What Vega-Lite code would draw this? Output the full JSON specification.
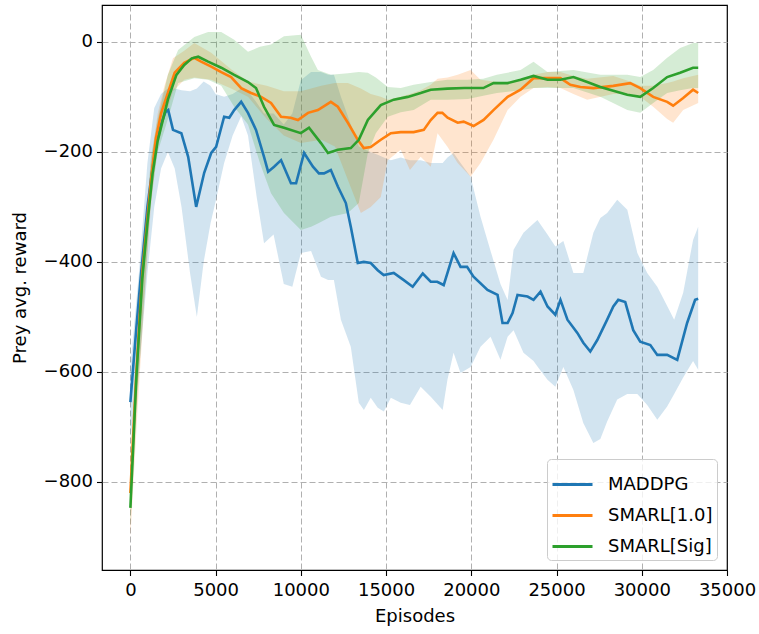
{
  "$schema": "https://vega.github.io/schema/vega-lite/v6.json",
  "width": 625,
  "height": 565,
  "autosize": {"type": "none"},
  "padding": {"left": 102, "top": 5, "right": 32, "bottom": 64},
  "background": "white",
  "datasets": {
    "lines": [
      {"s":"MADDPG","x":0,"y":-655},{"s":"MADDPG","x":350,"y":-520},{"s":"MADDPG","x":600,"y":-430},{"s":"MADDPG","x":1000,"y":-300},{"s":"MADDPG","x":1230,"y":-245},{"s":"MADDPG","x":1520,"y":-184},{"s":"MADDPG","x":1800,"y":-150},{"s":"MADDPG","x":2050,"y":-128},{"s":"MADDPG","x":2220,"y":-124},{"s":"MADDPG","x":2500,"y":-160},{"s":"MADDPG","x":2990,"y":-166},{"s":"MADDPG","x":3390,"y":-209},{"s":"MADDPG","x":3860,"y":-300},{"s":"MADDPG","x":4330,"y":-238},{"s":"MADDPG","x":4740,"y":-202},{"s":"MADDPG","x":5030,"y":-191},{"s":"MADDPG","x":5500,"y":-136},{"s":"MADDPG","x":5800,"y":-138},{"s":"MADDPG","x":6090,"y":-124},{"s":"MADDPG","x":6500,"y":-109},{"s":"MADDPG","x":6900,"y":-129},{"s":"MADDPG","x":7370,"y":-160},{"s":"MADDPG","x":7840,"y":-209},{"s":"MADDPG","x":8080,"y":-236},{"s":"MADDPG","x":8430,"y":-227},{"s":"MADDPG","x":8840,"y":-215},{"s":"MADDPG","x":9420,"y":-257},{"s":"MADDPG","x":9720,"y":-257},{"s":"MADDPG","x":10190,"y":-202},{"s":"MADDPG","x":10710,"y":-227},{"s":"MADDPG","x":11060,"y":-239},{"s":"MADDPG","x":11360,"y":-239},{"s":"MADDPG","x":11760,"y":-233},{"s":"MADDPG","x":12170,"y":-263},{"s":"MADDPG","x":12640,"y":-293},{"s":"MADDPG","x":12930,"y":-336},{"s":"MADDPG","x":13340,"y":-402},{"s":"MADDPG","x":13690,"y":-400},{"s":"MADDPG","x":14100,"y":-402},{"s":"MADDPG","x":14510,"y":-415},{"s":"MADDPG","x":14860,"y":-424},{"s":"MADDPG","x":15450,"y":-420},{"s":"MADDPG","x":16040,"y":-433},{"s":"MADDPG","x":16560,"y":-445},{"s":"MADDPG","x":17150,"y":-421},{"s":"MADDPG","x":17620,"y":-436},{"s":"MADDPG","x":18000,"y":-436},{"s":"MADDPG","x":18380,"y":-442},{"s":"MADDPG","x":18960,"y":-384},{"s":"MADDPG","x":19370,"y":-409},{"s":"MADDPG","x":19750,"y":-409},{"s":"MADDPG","x":20130,"y":-427},{"s":"MADDPG","x":20950,"y":-451},{"s":"MADDPG","x":21540,"y":-460},{"s":"MADDPG","x":21830,"y":-511},{"s":"MADDPG","x":22130,"y":-511},{"s":"MADDPG","x":22420,"y":-493},{"s":"MADDPG","x":22710,"y":-460},{"s":"MADDPG","x":23300,"y":-463},{"s":"MADDPG","x":23650,"y":-469},{"s":"MADDPG","x":24060,"y":-454},{"s":"MADDPG","x":24470,"y":-481},{"s":"MADDPG","x":24930,"y":-496},{"s":"MADDPG","x":25230,"y":-469},{"s":"MADDPG","x":25640,"y":-505},{"s":"MADDPG","x":26220,"y":-529},{"s":"MADDPG","x":26570,"y":-547},{"s":"MADDPG","x":26980,"y":-563},{"s":"MADDPG","x":27390,"y":-542},{"s":"MADDPG","x":27970,"y":-505},{"s":"MADDPG","x":28330,"y":-481},{"s":"MADDPG","x":28620,"y":-469},{"s":"MADDPG","x":29030,"y":-473},{"s":"MADDPG","x":29500,"y":-524},{"s":"MADDPG","x":29910,"y":-545},{"s":"MADDPG","x":30500,"y":-551},{"s":"MADDPG","x":30910,"y":-569},{"s":"MADDPG","x":31490,"y":-569},{"s":"MADDPG","x":32080,"y":-578},{"s":"MADDPG","x":32660,"y":-511},{"s":"MADDPG","x":33130,"y":-469},{"s":"MADDPG","x":33310,"y":-467},
      {"s":"SMARL[1.0]","x":0,"y":-820},{"s":"SMARL[1.0]","x":350,"y":-600},{"s":"SMARL[1.0]","x":700,"y":-420},{"s":"SMARL[1.0]","x":1000,"y":-320},{"s":"SMARL[1.0]","x":1230,"y":-245},{"s":"SMARL[1.0]","x":1500,"y":-175},{"s":"SMARL[1.0]","x":1810,"y":-129},{"s":"SMARL[1.0]","x":2200,"y":-93},{"s":"SMARL[1.0]","x":2600,"y":-56},{"s":"SMARL[1.0]","x":3160,"y":-38},{"s":"SMARL[1.0]","x":3750,"y":-29},{"s":"SMARL[1.0]","x":4150,"y":-36},{"s":"SMARL[1.0]","x":4740,"y":-45},{"s":"SMARL[1.0]","x":5330,"y":-55},{"s":"SMARL[1.0]","x":5910,"y":-64},{"s":"SMARL[1.0]","x":6500,"y":-84},{"s":"SMARL[1.0]","x":7080,"y":-93},{"s":"SMARL[1.0]","x":7670,"y":-100},{"s":"SMARL[1.0]","x":8250,"y":-111},{"s":"SMARL[1.0]","x":8840,"y":-136},{"s":"SMARL[1.0]","x":9400,"y":-138},{"s":"SMARL[1.0]","x":9830,"y":-142},{"s":"SMARL[1.0]","x":10420,"y":-129},{"s":"SMARL[1.0]","x":11000,"y":-124},{"s":"SMARL[1.0]","x":11760,"y":-109},{"s":"SMARL[1.0]","x":12170,"y":-118},{"s":"SMARL[1.0]","x":12760,"y":-147},{"s":"SMARL[1.0]","x":13340,"y":-178},{"s":"SMARL[1.0]","x":13690,"y":-193},{"s":"SMARL[1.0]","x":14100,"y":-191},{"s":"SMARL[1.0]","x":14690,"y":-178},{"s":"SMARL[1.0]","x":15280,"y":-166},{"s":"SMARL[1.0]","x":15860,"y":-164},{"s":"SMARL[1.0]","x":16620,"y":-164},{"s":"SMARL[1.0]","x":17210,"y":-160},{"s":"SMARL[1.0]","x":17620,"y":-142},{"s":"SMARL[1.0]","x":18020,"y":-129},{"s":"SMARL[1.0]","x":18300,"y":-129},{"s":"SMARL[1.0]","x":18610,"y":-138},{"s":"SMARL[1.0]","x":19200,"y":-147},{"s":"SMARL[1.0]","x":19550,"y":-145},{"s":"SMARL[1.0]","x":20130,"y":-153},{"s":"SMARL[1.0]","x":20720,"y":-142},{"s":"SMARL[1.0]","x":21300,"y":-124},{"s":"SMARL[1.0]","x":22130,"y":-100},{"s":"SMARL[1.0]","x":22890,"y":-87},{"s":"SMARL[1.0]","x":23650,"y":-66},{"s":"SMARL[1.0]","x":24470,"y":-66},{"s":"SMARL[1.0]","x":25230,"y":-66},{"s":"SMARL[1.0]","x":25810,"y":-78},{"s":"SMARL[1.0]","x":26400,"y":-82},{"s":"SMARL[1.0]","x":27160,"y":-84},{"s":"SMARL[1.0]","x":28330,"y":-80},{"s":"SMARL[1.0]","x":29320,"y":-75},{"s":"SMARL[1.0]","x":29910,"y":-84},{"s":"SMARL[1.0]","x":30670,"y":-100},{"s":"SMARL[1.0]","x":31490,"y":-109},{"s":"SMARL[1.0]","x":31840,"y":-116},{"s":"SMARL[1.0]","x":32430,"y":-102},{"s":"SMARL[1.0]","x":33010,"y":-87},{"s":"SMARL[1.0]","x":33310,"y":-93},
      {"s":"SMARL[Sig]","x":0,"y":-847},{"s":"SMARL[Sig]","x":350,"y":-610},{"s":"SMARL[Sig]","x":700,"y":-430},{"s":"SMARL[Sig]","x":1000,"y":-330},{"s":"SMARL[Sig]","x":1300,"y":-240},{"s":"SMARL[Sig]","x":1600,"y":-180},{"s":"SMARL[Sig]","x":2200,"y":-105},{"s":"SMARL[Sig]","x":2700,"y":-60},{"s":"SMARL[Sig]","x":3160,"y":-42},{"s":"SMARL[Sig]","x":3600,"y":-30},{"s":"SMARL[Sig]","x":3980,"y":-27},{"s":"SMARL[Sig]","x":4560,"y":-36},{"s":"SMARL[Sig]","x":5330,"y":-47},{"s":"SMARL[Sig]","x":6090,"y":-60},{"s":"SMARL[Sig]","x":6900,"y":-73},{"s":"SMARL[Sig]","x":7370,"y":-84},{"s":"SMARL[Sig]","x":7840,"y":-118},{"s":"SMARL[Sig]","x":8430,"y":-151},{"s":"SMARL[Sig]","x":9010,"y":-156},{"s":"SMARL[Sig]","x":10000,"y":-166},{"s":"SMARL[Sig]","x":10480,"y":-156},{"s":"SMARL[Sig]","x":11180,"y":-184},{"s":"SMARL[Sig]","x":11590,"y":-202},{"s":"SMARL[Sig]","x":12170,"y":-196},{"s":"SMARL[Sig]","x":12930,"y":-193},{"s":"SMARL[Sig]","x":13400,"y":-178},{"s":"SMARL[Sig]","x":13930,"y":-142},{"s":"SMARL[Sig]","x":14690,"y":-115},{"s":"SMARL[Sig]","x":15450,"y":-105},{"s":"SMARL[Sig]","x":16270,"y":-100},{"s":"SMARL[Sig]","x":17030,"y":-93},{"s":"SMARL[Sig]","x":17620,"y":-87},{"s":"SMARL[Sig]","x":18600,"y":-85},{"s":"SMARL[Sig]","x":19600,"y":-84},{"s":"SMARL[Sig]","x":20700,"y":-84},{"s":"SMARL[Sig]","x":21300,"y":-75},{"s":"SMARL[Sig]","x":22130,"y":-75},{"s":"SMARL[Sig]","x":22890,"y":-69},{"s":"SMARL[Sig]","x":23650,"y":-62},{"s":"SMARL[Sig]","x":24470,"y":-69},{"s":"SMARL[Sig]","x":25230,"y":-69},{"s":"SMARL[Sig]","x":25990,"y":-64},{"s":"SMARL[Sig]","x":26800,"y":-73},{"s":"SMARL[Sig]","x":27570,"y":-82},{"s":"SMARL[Sig]","x":28330,"y":-89},{"s":"SMARL[Sig]","x":29150,"y":-96},{"s":"SMARL[Sig]","x":29910,"y":-100},{"s":"SMARL[Sig]","x":30670,"y":-84},{"s":"SMARL[Sig]","x":31490,"y":-64},{"s":"SMARL[Sig]","x":32250,"y":-56},{"s":"SMARL[Sig]","x":33010,"y":-47},{"s":"SMARL[Sig]","x":33310,"y":-47}
    ],
    "bands": [
      {"b":"MADDPG","x":0,"lo":-720,"hi":-590},{"b":"MADDPG","x":500,"lo":-600,"hi":-420},{"b":"MADDPG","x":1000,"lo":-420,"hi":-220},{"b":"MADDPG","x":1400,"lo":-300,"hi":-120},{"b":"MADDPG","x":1800,"lo":-230,"hi":-95},{"b":"MADDPG","x":2200,"lo":-200,"hi":-85},{"b":"MADDPG","x":2600,"lo":-230,"hi":-85},{"b":"MADDPG","x":3000,"lo":-300,"hi":-88},{"b":"MADDPG","x":3500,"lo":-420,"hi":-90},{"b":"MADDPG","x":3900,"lo":-500,"hi":-85},{"b":"MADDPG","x":4300,"lo":-400,"hi":-72},{"b":"MADDPG","x":4700,"lo":-330,"hi":-80},{"b":"MADDPG","x":5000,"lo":-290,"hi":-95},{"b":"MADDPG","x":5500,"lo":-220,"hi":-100},{"b":"MADDPG","x":6000,"lo":-170,"hi":-95},{"b":"MADDPG","x":6500,"lo":-135,"hi":-85},{"b":"MADDPG","x":6900,"lo":-170,"hi":-90},{"b":"MADDPG","x":7400,"lo":-280,"hi":-110},{"b":"MADDPG","x":7840,"lo":-366,"hi":-130},{"b":"MADDPG","x":8400,"lo":-350,"hi":-130},{"b":"MADDPG","x":9000,"lo":-440,"hi":-150},{"b":"MADDPG","x":9500,"lo":-445,"hi":-130},{"b":"MADDPG","x":10000,"lo":-384,"hi":-70},{"b":"MADDPG","x":10600,"lo":-380,"hi":-55},{"b":"MADDPG","x":11180,"lo":-427,"hi":-55},{"b":"MADDPG","x":11600,"lo":-433,"hi":-60},{"b":"MADDPG","x":11940,"lo":-433,"hi":-60},{"b":"MADDPG","x":12350,"lo":-505,"hi":-100},{"b":"MADDPG","x":12930,"lo":-554,"hi":-150},{"b":"MADDPG","x":13400,"lo":-656,"hi":-190},{"b":"MADDPG","x":13700,"lo":-669,"hi":-195},{"b":"MADDPG","x":14100,"lo":-647,"hi":-200},{"b":"MADDPG","x":14510,"lo":-665,"hi":-205},{"b":"MADDPG","x":14870,"lo":-672,"hi":-210},{"b":"MADDPG","x":15280,"lo":-647,"hi":-215},{"b":"MADDPG","x":15860,"lo":-656,"hi":-210},{"b":"MADDPG","x":16400,"lo":-660,"hi":-215},{"b":"MADDPG","x":17030,"lo":-627,"hi":-215},{"b":"MADDPG","x":17620,"lo":-645,"hi":-220},{"b":"MADDPG","x":18320,"lo":-669,"hi":-220},{"b":"MADDPG","x":18600,"lo":-614,"hi":-210},{"b":"MADDPG","x":18960,"lo":-565,"hi":-202},{"b":"MADDPG","x":19370,"lo":-602,"hi":-220},{"b":"MADDPG","x":19960,"lo":-591,"hi":-245},{"b":"MADDPG","x":20540,"lo":-554,"hi":-318},{"b":"MADDPG","x":21130,"lo":-536,"hi":-380},{"b":"MADDPG","x":21710,"lo":-578,"hi":-440},{"b":"MADDPG","x":22130,"lo":-536,"hi":-469},{"b":"MADDPG","x":22480,"lo":-524,"hi":-378},{"b":"MADDPG","x":23060,"lo":-565,"hi":-347},{"b":"MADDPG","x":23650,"lo":-580,"hi":-330},{"b":"MADDPG","x":23880,"lo":-590,"hi":-324},{"b":"MADDPG","x":24470,"lo":-614,"hi":-350},{"b":"MADDPG","x":24930,"lo":-627,"hi":-372},{"b":"MADDPG","x":25400,"lo":-591,"hi":-362},{"b":"MADDPG","x":25990,"lo":-633,"hi":-420},{"b":"MADDPG","x":26570,"lo":-693,"hi":-420},{"b":"MADDPG","x":27160,"lo":-729,"hi":-347},{"b":"MADDPG","x":27570,"lo":-722,"hi":-320},{"b":"MADDPG","x":27970,"lo":-690,"hi":-311},{"b":"MADDPG","x":28560,"lo":-650,"hi":-287},{"b":"MADDPG","x":29150,"lo":-640,"hi":-305},{"b":"MADDPG","x":29740,"lo":-640,"hi":-384},{"b":"MADDPG","x":30320,"lo":-660,"hi":-420},{"b":"MADDPG","x":30910,"lo":-687,"hi":-445},{"b":"MADDPG","x":31490,"lo":-663,"hi":-480},{"b":"MADDPG","x":31900,"lo":-640,"hi":-505},{"b":"MADDPG","x":32430,"lo":-610,"hi":-456},{"b":"MADDPG","x":33010,"lo":-580,"hi":-360},{"b":"MADDPG","x":33310,"lo":-596,"hi":-336},
      {"b":"SMARL[1.0]","x":0,"lo":-900,"hi":-740},{"b":"SMARL[1.0]","x":400,"lo":-680,"hi":-560},{"b":"SMARL[1.0]","x":800,"lo":-480,"hi":-370},{"b":"SMARL[1.0]","x":1200,"lo":-300,"hi":-220},{"b":"SMARL[1.0]","x":1600,"lo":-190,"hi":-130},{"b":"SMARL[1.0]","x":2000,"lo":-140,"hi":-80},{"b":"SMARL[1.0]","x":2500,"lo":-90,"hi":-30},{"b":"SMARL[1.0]","x":3160,"lo":-69,"hi":-16},{"b":"SMARL[1.0]","x":3750,"lo":-65,"hi":-2},{"b":"SMARL[1.0]","x":4740,"lo":-69,"hi":-20},{"b":"SMARL[1.0]","x":5910,"lo":-85,"hi":-50},{"b":"SMARL[1.0]","x":6900,"lo":-100,"hi":-72},{"b":"SMARL[1.0]","x":8000,"lo":-140,"hi":-80},{"b":"SMARL[1.0]","x":9000,"lo":-170,"hi":-90},{"b":"SMARL[1.0]","x":10000,"lo":-184,"hi":-90},{"b":"SMARL[1.0]","x":11200,"lo":-178,"hi":-80},{"b":"SMARL[1.0]","x":12000,"lo":-190,"hi":-75},{"b":"SMARL[1.0]","x":12760,"lo":-251,"hi":-75},{"b":"SMARL[1.0]","x":13520,"lo":-311,"hi":-85},{"b":"SMARL[1.0]","x":14100,"lo":-300,"hi":-95},{"b":"SMARL[1.0]","x":14690,"lo":-282,"hi":-100},{"b":"SMARL[1.0]","x":15100,"lo":-215,"hi":-105},{"b":"SMARL[1.0]","x":15860,"lo":-196,"hi":-100},{"b":"SMARL[1.0]","x":16400,"lo":-233,"hi":-95},{"b":"SMARL[1.0]","x":17030,"lo":-209,"hi":-88},{"b":"SMARL[1.0]","x":17620,"lo":-227,"hi":-78},{"b":"SMARL[1.0]","x":18020,"lo":-166,"hi":-67},{"b":"SMARL[1.0]","x":18610,"lo":-191,"hi":-65},{"b":"SMARL[1.0]","x":19200,"lo":-220,"hi":-60},{"b":"SMARL[1.0]","x":19960,"lo":-245,"hi":-51},{"b":"SMARL[1.0]","x":20540,"lo":-220,"hi":-69},{"b":"SMARL[1.0]","x":21300,"lo":-178,"hi":-72},{"b":"SMARL[1.0]","x":22130,"lo":-124,"hi":-75},{"b":"SMARL[1.0]","x":22890,"lo":-100,"hi":-69},{"b":"SMARL[1.0]","x":23650,"lo":-84,"hi":-60},{"b":"SMARL[1.0]","x":24470,"lo":-82,"hi":-55},{"b":"SMARL[1.0]","x":25230,"lo":-84,"hi":-55},{"b":"SMARL[1.0]","x":25990,"lo":-95,"hi":-62},{"b":"SMARL[1.0]","x":26800,"lo":-105,"hi":-67},{"b":"SMARL[1.0]","x":28330,"lo":-95,"hi":-62},{"b":"SMARL[1.0]","x":29320,"lo":-95,"hi":-72},{"b":"SMARL[1.0]","x":29910,"lo":-100,"hi":-80},{"b":"SMARL[1.0]","x":30670,"lo":-118,"hi":-80},{"b":"SMARL[1.0]","x":31490,"lo":-140,"hi":-75},{"b":"SMARL[1.0]","x":31840,"lo":-147,"hi":-72},{"b":"SMARL[1.0]","x":32430,"lo":-124,"hi":-66},{"b":"SMARL[1.0]","x":33310,"lo":-111,"hi":-60},
      {"b":"SMARL[Sig]","x":0,"lo":-880,"hi":-810},{"b":"SMARL[Sig]","x":400,"lo":-650,"hi":-560},{"b":"SMARL[Sig]","x":800,"lo":-470,"hi":-390},{"b":"SMARL[Sig]","x":1200,"lo":-290,"hi":-210},{"b":"SMARL[Sig]","x":1600,"lo":-200,"hi":-140},{"b":"SMARL[Sig]","x":2200,"lo":-140,"hi":-60},{"b":"SMARL[Sig]","x":2800,"lo":-75,"hi":-15},{"b":"SMARL[Sig]","x":3750,"lo":-66,"hi":9},{"b":"SMARL[Sig]","x":4560,"lo":-69,"hi":18},{"b":"SMARL[Sig]","x":5330,"lo":-80,"hi":18},{"b":"SMARL[Sig]","x":6090,"lo":-118,"hi":4},{"b":"SMARL[Sig]","x":6900,"lo":-150,"hi":-18},{"b":"SMARL[Sig]","x":7600,"lo":-220,"hi":-9},{"b":"SMARL[Sig]","x":8250,"lo":-275,"hi":-5},{"b":"SMARL[Sig]","x":9010,"lo":-311,"hi":10},{"b":"SMARL[Sig]","x":10000,"lo":-342,"hi":13},{"b":"SMARL[Sig]","x":10600,"lo":-336,"hi":-27},{"b":"SMARL[Sig]","x":11000,"lo":-330,"hi":-51},{"b":"SMARL[Sig]","x":11760,"lo":-318,"hi":-60},{"b":"SMARL[Sig]","x":12760,"lo":-311,"hi":-57},{"b":"SMARL[Sig]","x":13400,"lo":-293,"hi":-55},{"b":"SMARL[Sig]","x":13930,"lo":-202,"hi":-56},{"b":"SMARL[Sig]","x":14400,"lo":-166,"hi":-65},{"b":"SMARL[Sig]","x":15100,"lo":-136,"hi":-82},{"b":"SMARL[Sig]","x":15860,"lo":-128,"hi":-84},{"b":"SMARL[Sig]","x":16620,"lo":-124,"hi":-78},{"b":"SMARL[Sig]","x":17620,"lo":-105,"hi":-73},{"b":"SMARL[Sig]","x":18600,"lo":-105,"hi":-69},{"b":"SMARL[Sig]","x":19800,"lo":-104,"hi":-69},{"b":"SMARL[Sig]","x":20700,"lo":-98,"hi":-67},{"b":"SMARL[Sig]","x":21500,"lo":-93,"hi":-60},{"b":"SMARL[Sig]","x":22890,"lo":-88,"hi":-51},{"b":"SMARL[Sig]","x":23650,"lo":-84,"hi":-36},{"b":"SMARL[Sig]","x":24470,"lo":-84,"hi":-55},{"b":"SMARL[Sig]","x":25990,"lo":-84,"hi":-51},{"b":"SMARL[Sig]","x":27570,"lo":-100,"hi":-60},{"b":"SMARL[Sig]","x":29150,"lo":-124,"hi":-60},{"b":"SMARL[Sig]","x":29910,"lo":-129,"hi":-64},{"b":"SMARL[Sig]","x":30670,"lo":-111,"hi":-51},{"b":"SMARL[Sig]","x":31490,"lo":-93,"hi":-29},{"b":"SMARL[Sig]","x":32250,"lo":-88,"hi":-11},{"b":"SMARL[Sig]","x":33010,"lo":-84,"hi":-2},{"b":"SMARL[Sig]","x":33310,"lo":-84,"hi":-2}
    ]
  },
  "layer": [
    {
      "data": {"name": "bands"},
      "mark": {"type": "area", "fillOpacity": 0.2, "clip": true},
      "encoding": {
        "x": {"field": "x", "type": "quantitative"},
        "y": {"field": "lo", "type": "quantitative"},
        "y2": {"field": "hi"},
        "fill": {"field": "b", "type": "nominal", "legend": null,
          "scale": {"range": ["#1f77b4", "#ff7f0e", "#2ca02c"]}}
      }
    },
    {
      "data": {"name": "lines"},
      "mark": {"type": "line", "strokeWidth": 2.6, "clip": true},
      "encoding": {
        "x": {"field": "x", "type": "quantitative",
          "scale": {"domain": [-1665, 35000], "nice": false, "zero": false},
          "axis": {"title": "Episodes", "values": [0, 5000, 10000, 15000, 20000, 25000, 30000, 35000], "format": "d",
            "gridOpacity": {"condition": {"test": "datum.value >= 35000", "value": 0}, "value": 1}}},
        "y": {"field": "y", "type": "quantitative",
          "scale": {"domain": [-960, 67], "nice": false, "zero": false},
          "axis": {"title": "Prey avg. reward", "values": [-800, -600, -400, -200, 0], "format": "d"}},
        "stroke": {"field": "s", "type": "nominal",
          "scale": {"domain": ["MADDPG", "SMARL[1.0]", "SMARL[Sig]"], "range": ["#1f77b4", "#ff7f0e", "#2ca02c"]},
          "legend": {"title": null, "orient": "bottom-right", "offset": 10, "symbolType": "stroke", "symbolSize": 1600, "symbolStrokeWidth": 3, "labelFontSize": 18, "labelColor": "#000", "labelOffset": 14, "rowPadding": -4, "padding": 4, "strokeColor": "#cccccc", "fillColor": "rgba(255,255,255,0.8)", "cornerRadius": 4}}
      }
    }
  ],
  "config": {
    "font": "DejaVu Sans",
    "view": {"stroke": "#000", "strokeWidth": 1.2},
    "axis": {
      "labelFont": "DejaVu Sans", "labelFontSize": 18, "labelColor": "#000",
      "titleFont": "DejaVu Sans", "titleFontSize": 18, "titleFontWeight": "normal", "titleColor": "#000",
      "domain": false, "tickColor": "#000", "tickSize": 5.5, "tickWidth": 1.1,
      "grid": true, "gridColor": "#b0b0b0", "gridDash": [6, 3], "gridWidth": 1,
      "labelOverlap": false, "labelFlush": false, "labelPadding": 4
    },
    "axisX": {"titlePadding": 8, "labelPadding": 6},
    "axisY": {"titlePadding": 14},
    "legend": {"labelFont": "DejaVu Sans"}
  }
}
